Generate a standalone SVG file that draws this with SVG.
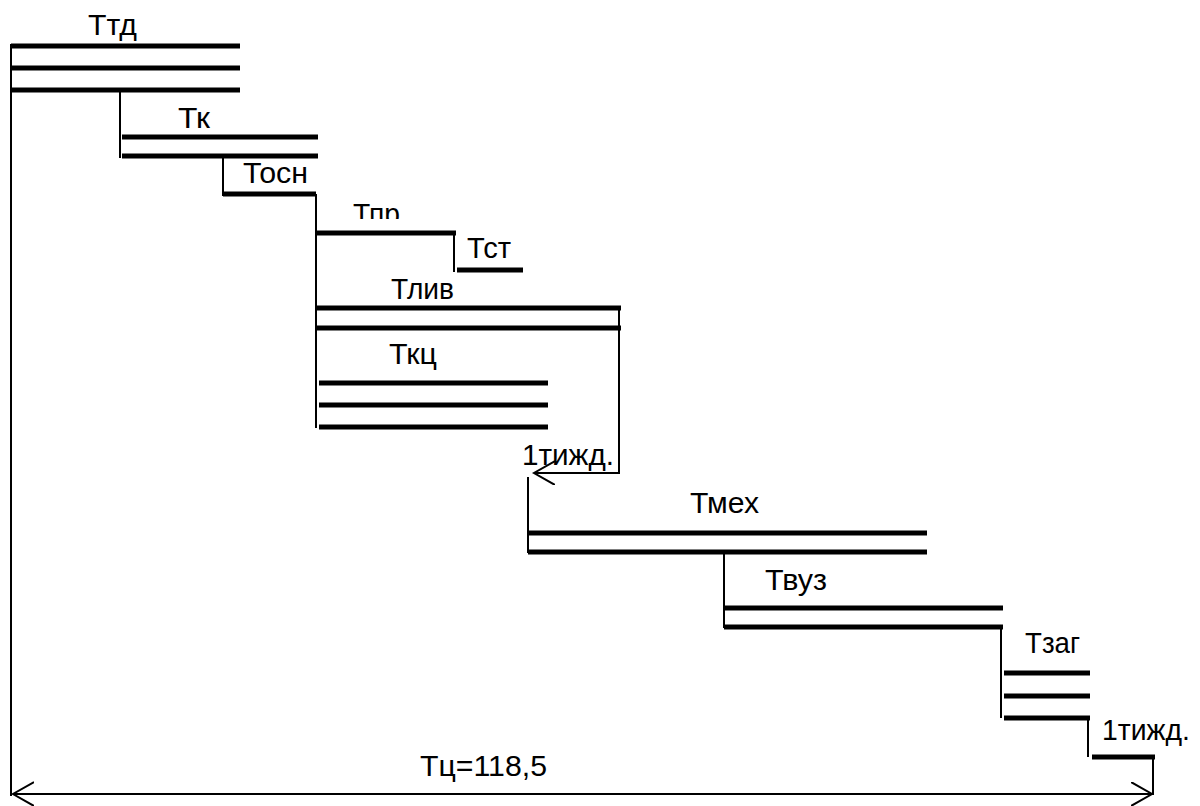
<svg xmlns="http://www.w3.org/2000/svg" width="1200" height="806" viewBox="0 0 1200 806">
  <style>
    .bar { stroke: #000; stroke-width: 5; fill: none; }
    .thin { stroke: #000; stroke-width: 2; fill: none; }
    .lbl { font-family: "Liberation Sans", Arial, sans-serif; font-size: 29px; fill: #000; }
  </style>
  <defs>
    <marker id="open" markerWidth="24" markerHeight="26" refX="21" refY="12" orient="auto-start-reverse" markerUnits="userSpaceOnUse">
      <path d="M0,0 L21,12 L0,24" fill="none" stroke="#000" stroke-width="2"/>
    </marker>
    <clipPath id="cut-pr">
      <rect x="340" y="190" width="80" height="29"/>
    </clipPath>
  </defs>
  <rect width="1200" height="806" fill="#fff"/>

  <!-- stage bars -->
  <g id="t-td">
    <text class="lbl" x="88" y="35" textLength="49" lengthAdjust="spacingAndGlyphs">Ттд</text>
    <path class="bar" d="M11,46H240M11,68H240M11,90H240"/>
  </g>
  <g id="t-k">
    <text class="lbl" x="178" y="128" textLength="32" lengthAdjust="spacingAndGlyphs">Тк</text>
    <path class="bar" d="M122,137H318M122,156H318"/>
  </g>
  <g id="t-osn">
    <text class="lbl" x="243" y="183" textLength="65" lengthAdjust="spacingAndGlyphs">Тосн</text>
    <path class="bar" d="M223,194H316"/>
  </g>
  <g id="t-pr">
    <text class="lbl" x="353" y="224" textLength="47" lengthAdjust="spacingAndGlyphs" clip-path="url(#cut-pr)">Тпр</text>
    <path class="bar" d="M316,233H456"/>
  </g>
  <g id="t-st">
    <text class="lbl" x="467" y="258" textLength="44" lengthAdjust="spacingAndGlyphs">Тст</text>
    <path class="bar" d="M457,270H523"/>
  </g>
  <g id="t-liv">
    <text class="lbl" x="391" y="299" textLength="63" lengthAdjust="spacingAndGlyphs">Тлив</text>
    <path class="bar" d="M316,308H621M316,328H621"/>
  </g>
  <g id="t-kc">
    <text class="lbl" x="389" y="364" textLength="48" lengthAdjust="spacingAndGlyphs">Ткц</text>
    <path class="bar" d="M319,383H548M319,405H548M319,427H548"/>
  </g>
  <g id="week-1">
    <text class="lbl" x="522" y="465" textLength="92" lengthAdjust="spacingAndGlyphs">1тижд.</text>
  </g>
  <g id="t-mekh">
    <text class="lbl" x="690" y="513" textLength="69" lengthAdjust="spacingAndGlyphs">Тмех</text>
    <path class="bar" d="M528,533H927M528,552H927"/>
  </g>
  <g id="t-vuz">
    <text class="lbl" x="765" y="590" textLength="62" lengthAdjust="spacingAndGlyphs">Твуз</text>
    <path class="bar" d="M724,608H1003M724,627H1003"/>
  </g>
  <g id="t-zag">
    <text class="lbl" x="1025" y="653" textLength="55" lengthAdjust="spacingAndGlyphs">Тзаг</text>
    <path class="bar" d="M1004,673H1090M1004,696H1090M1004,718H1090"/>
  </g>
  <g id="week-2">
    <text class="lbl" x="1102" y="740" textLength="88" lengthAdjust="spacingAndGlyphs">1тижд.</text>
    <path class="bar" d="M1092,757H1155"/>
  </g>
  <g id="t-c">
    <text class="lbl" x="420" y="776" textLength="127" lengthAdjust="spacingAndGlyphs">Тц=118,5</text>
  </g>

  <!-- connectors -->
  <g id="connectors">
    <path class="thin" d="M11,44V796"/>
    <path class="thin" d="M120,90V158"/>
    <path class="thin" d="M223,156V196"/>
    <path class="thin" d="M316,194V428"/>
    <path class="thin" d="M454,233V272"/>
    <path class="thin" d="M619,308V473H534" marker-end="url(#open)"/>
    <path class="thin" d="M528,477V553"/>
    <path class="thin" d="M724,552V628"/>
    <path class="thin" d="M1001,627V718"/>
    <path class="thin" d="M1088,718V757"/>
    <path class="thin" d="M1153,757V795"/>
    <path class="thin" d="M13,794H1152" marker-start="url(#open)" marker-end="url(#open)"/>
  </g>
</svg>
